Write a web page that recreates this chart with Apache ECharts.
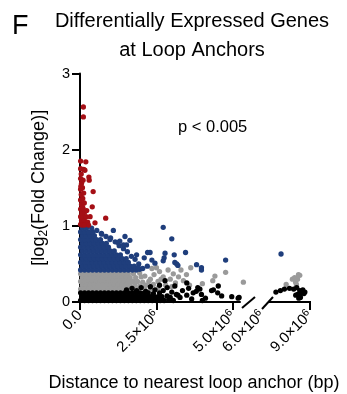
<!DOCTYPE html>
<html>
<head>
<meta charset="utf-8">
<script src="https://cdn.jsdelivr.net/npm/echarts@6/dist/echarts.min.js"></script>
<style>
html,body{margin:0;padding:0;background:#fff;}
#chart{width:347px;height:394px;}
</style>
</head>
<body>
<div id="chart"></div>
<script>
// ---- data (x in units of 10^6 bp, y = log2 fold change) ----
const leftTicks = [0, 2.5, 5.0];
const rightTicks = [6.0, 9.0];
const yTicks = [0, 1, 2, 3];

const redLeft = [[0.02,1.02],[0.10,1.03],[0.18,1.02],[0.05,1.07],[0.14,1.08],[0.02,1.12],[0.10,1.13],[0.20,1.12],
 [0.06,1.17],[0.15,1.18],[0.02,1.22],[0.10,1.23],[0.05,1.28],[0.14,1.30],[0.02,1.34],[0.09,1.36],[0.04,1.41],
 [0.12,1.43],[0.02,1.48],[0.08,1.50],[0.05,1.56],[0.02,1.62],[0.10,1.60],[0.04,1.68],[0.02,1.75],[0.12,1.74],
 [0.16,1.73],[0.02,1.85],[0.19,1.84],[0.29,1.64],[0.30,1.60],[0.43,1.45],[0.40,1.25],[0.84,1.10],[0.49,1.04],
 [0.33,1.12],[0.25,1.05],[0.11,2.56],[0.11,2.43],[0.22,1.20],[0.28,1.01],[0.06,1.01],[0.14,1.01],[0.08,1.25],[0.03,1.52]];

const blueLeft = [
 [0.02,0.42],[0.15,0.42],[0.28,0.42],[0.41,0.42],[0.54,0.42],[0.67,0.42],[0.80,0.42],[0.93,0.42],[1.06,0.42],[1.19,0.42],[1.32,0.42],[1.45,0.42],[1.58,0.42],[1.71,0.42],[1.84,0.42],[1.95,0.43],
 [0.08,0.47],[0.21,0.47],[0.34,0.47],[0.47,0.47],[0.60,0.47],[0.73,0.47],[0.86,0.47],[0.99,0.47],[1.12,0.47],[1.25,0.47],[1.38,0.47],[1.51,0.47],[1.64,0.47],[1.77,0.47],
 [0.02,0.52],[0.15,0.52],[0.28,0.52],[0.41,0.52],[0.54,0.52],[0.67,0.52],[0.80,0.52],[0.93,0.52],[1.06,0.52],[1.19,0.52],[1.32,0.52],[1.45,0.52],[1.58,0.52],
 [0.08,0.57],[0.21,0.57],[0.34,0.57],[0.47,0.57],[0.60,0.57],[0.73,0.57],[0.86,0.57],[0.99,0.57],[1.12,0.57],[1.25,0.57],[1.38,0.57],[1.51,0.57],
 [0.02,0.62],[0.15,0.62],[0.28,0.62],[0.41,0.62],[0.54,0.62],[0.67,0.62],[0.80,0.62],[0.93,0.62],[1.06,0.62],[1.19,0.62],[1.32,0.62],
 [0.08,0.67],[0.21,0.67],[0.34,0.67],[0.47,0.67],[0.60,0.67],[0.73,0.67],[0.86,0.67],[0.99,0.67],[1.12,0.67],
 [0.02,0.72],[0.15,0.72],[0.28,0.72],[0.41,0.72],[0.54,0.72],[0.67,0.72],[0.80,0.72],[0.93,0.72],
 [0.08,0.77],[0.21,0.77],[0.34,0.77],[0.47,0.77],[0.60,0.77],[0.73,0.77],[0.86,0.77],
 [0.02,0.82],[0.15,0.82],[0.28,0.82],[0.41,0.82],[0.54,0.82],[0.67,0.82],
 [0.08,0.87],[0.21,0.87],[0.34,0.87],[0.47,0.87],
 [0.02,0.92],[0.15,0.92],[0.28,0.92],[0.41,0.92],
 [0.08,0.97],[0.21,0.97],
 [2.05,0.44],[1.92,0.50],[1.80,0.56],[1.68,0.60],[1.55,0.66],[1.42,0.70],[1.28,0.74],[1.15,0.79],[1.00,0.84],
 [0.85,0.86],[0.70,0.90],[0.55,0.94],[0.38,0.97],[1.09,0.94],[1.47,0.86],[1.63,0.81],[1.42,0.75],[1.52,0.75],
 [1.24,0.78],[0.98,0.82],[0.71,0.89],[2.72,0.98],[3.00,0.83],[2.21,0.65],[2.29,0.65],[2.78,0.64],[3.08,0.62],
 [3.45,0.65],[2.75,0.58],[3.10,0.52],[3.16,0.50],[3.20,0.48],[2.45,0.51],[2.72,0.54],[1.90,0.45],[3.81,0.49],
 [3.97,0.45],[3.97,0.42],[4.76,0.55],[2.20,0.47],[2.35,0.55],[2.10,0.58],[1.85,0.62],[1.30,0.80]];
const blueRight = [[7.19,0.63]];

const grayLeft = [
 [0.02,0.37],[0.15,0.37],[0.28,0.37],[0.41,0.37],[0.54,0.37],[0.67,0.37],[0.80,0.37],[0.93,0.37],[1.06,0.37],[1.19,0.37],[1.32,0.37],[1.45,0.37],[1.58,0.37],[1.75,0.37],
 [0.08,0.32],[0.21,0.32],[0.34,0.32],[0.47,0.32],[0.60,0.32],[0.73,0.32],[0.86,0.32],[0.99,0.32],[1.12,0.32],[1.25,0.32],[1.38,0.32],[1.51,0.32],[1.64,0.32],[1.82,0.32],[2.00,0.33],
 [0.02,0.27],[0.15,0.27],[0.28,0.27],[0.41,0.27],[0.54,0.27],[0.67,0.27],[0.80,0.27],[0.93,0.27],[1.06,0.27],[1.19,0.27],[1.32,0.27],[1.45,0.27],[1.58,0.27],[1.72,0.27],[1.88,0.27],[2.05,0.26],[2.25,0.27],
 [0.08,0.22],[0.21,0.22],[0.34,0.22],[0.47,0.22],[0.60,0.22],[0.73,0.22],[0.86,0.22],[0.99,0.22],[1.12,0.22],[1.25,0.22],[1.38,0.22],[1.51,0.22],[1.64,0.22],[1.80,0.22],[1.96,0.21],[2.15,0.22],[2.40,0.23],
 [0.02,0.17],[0.15,0.17],[0.28,0.17],[0.41,0.17],[0.54,0.17],[0.67,0.17],[0.80,0.17],[0.93,0.17],[1.06,0.17],[1.19,0.17],[1.32,0.17],[1.45,0.17],[1.58,0.17],[1.72,0.18],[1.90,0.17],[2.10,0.18],[2.30,0.17],[2.55,0.18],
 [1.95,0.38],[2.12,0.34],[2.30,0.30],[2.42,0.36],[2.55,0.27],[2.60,0.40],[2.72,0.33],[2.80,0.22],[2.88,0.42],
 [2.95,0.30],[3.05,0.37],[3.12,0.25],[3.22,0.33],[3.30,0.42],[3.38,0.28],[3.48,0.36],[3.58,0.22],[3.62,0.45],
 [2.50,0.45],[2.35,0.44],[4.00,0.24],[4.34,0.28],[4.41,0.34],[4.76,0.39],[5.34,0.26],[2.65,0.30],[3.00,0.20]];
const grayRight = [[7.51,0.23],[7.90,0.30],[8.04,0.32],[8.10,0.26],[8.22,0.30],[8.36,0.35],[8.15,0.23],[8.28,0.36]];

const blackLeft = [
 [0.02,0.02],[0.15,0.02],[0.28,0.02],[0.41,0.02],[0.54,0.02],[0.67,0.02],[0.80,0.02],[0.93,0.02],[1.06,0.02],[1.19,0.02],[1.32,0.02],[1.45,0.02],[1.58,0.02],[1.71,0.02],[1.84,0.02],[1.97,0.02],[2.10,0.02],[2.23,0.02],[2.36,0.02],[2.49,0.02],[2.62,0.02],[2.75,0.02],[2.90,0.03],[3.05,0.02],
 [0.08,0.07],[0.21,0.07],[0.34,0.07],[0.47,0.07],[0.60,0.07],[0.73,0.07],[0.86,0.07],[0.99,0.07],[1.12,0.07],[1.25,0.07],[1.38,0.07],[1.51,0.07],[1.64,0.07],[1.77,0.07],[1.90,0.07],[2.03,0.07],[2.16,0.07],[2.29,0.07],[2.42,0.07],[2.55,0.07],[2.68,0.07],[2.85,0.08],
 [0.02,0.12],[0.15,0.12],[0.28,0.12],[0.41,0.12],[0.54,0.12],[0.67,0.12],[0.80,0.12],[0.93,0.12],[1.06,0.12],[1.19,0.12],[1.32,0.12],[1.45,0.12],[1.58,0.12],[1.71,0.12],[1.84,0.12],[1.97,0.12],[2.10,0.12],[2.23,0.12],[2.40,0.11],[2.60,0.12],
 [1.52,0.16],[1.70,0.18],[1.85,0.15],[2.00,0.19],[2.15,0.14],[2.30,0.20],[2.45,0.16],[2.60,0.22],[2.72,0.15],
 [2.85,0.19],[3.00,0.13],[3.10,0.21],[3.20,0.09],[3.27,0.06],[3.35,0.15],[3.49,0.09],[3.55,0.18],[3.65,0.04],
 [3.70,0.12],[3.80,0.14],[3.85,0.19],[3.92,0.17],[3.97,0.10],[4.00,0.02],[4.10,0.05],[4.30,0.15],[4.36,0.16],
 [4.52,0.21],[4.50,0.12],[4.63,0.08],[4.96,0.07],[5.17,0.05],[5.20,0.06],[2.78,0.28],[3.49,0.25],[3.15,0.10],[2.95,0.06]];
const blackRight = [[6.87,0.13],[7.15,0.15],[7.40,0.17],[7.72,0.18],[7.98,0.17],[8.17,0.19],[8.36,0.15],[8.55,0.16],
 [8.23,0.10],[8.36,0.08],[8.49,0.12],[8.11,0.09],[8.62,0.11],[8.30,0.05],[8.68,0.13],[8.40,0.06]];

// ---- chart ----
const FONT = 'Liberation Sans, Arial, Helvetica, sans-serif';
const COLORS = {red:'#a50f15', blue:'#1f3e7c', gray:'#9a9a9a', black:'#000000'};
const LEFT_MAX = 5.23;
const SYM = 5.3;

const chart = echarts.init(document.getElementById('chart'), null, {renderer:'canvas'});

function xFmt(v){
  if (v === 0) return '{a|0.0}';
  return '{a|' + v.toFixed(1) + '×10}{s|6}';
}
const labelRich = {a:{fontSize:15, fontFamily:FONT, color:'#000', lineHeight:17}, s:{fontSize:10.5, fontFamily:FONT, color:'#000', verticalAlign:'top'}};
const axisLineStyle = {color:'#000', width:2};

function sc(name, data, color, xi){
  return {name, type:'scatter', data, xAxisIndex:xi, yAxisIndex:xi, symbolSize:SYM, clip:false,
    itemStyle:{color, opacity:1}, emphasis:{disabled:true}, silent:true, animation:false};
}

chart.setOption({
  animation:false,
  backgroundColor:'#fff',
  grid:[
    {left:80, top:73.5, width:160, height:228.5},
    {left:262, top:73.5, width:48, height:228.5}
  ],
  xAxis:[
    {type:'value', gridIndex:0, min:0, max:LEFT_MAX,
     axisLine:{show:true, onZero:false, lineStyle:axisLineStyle},
     axisTick:{show:true, customValues:leftTicks, length:8, lineStyle:axisLineStyle},
     axisLabel:{customValues:leftTicks, rotate:45, margin:11, formatter:xFmt, rich:labelRich},
     splitLine:{show:false}},
    {type:'value', gridIndex:1, min:6, max:9,
     axisLine:{show:false},
     axisTick:{show:true, customValues:[9], length:8, lineStyle:axisLineStyle},
     axisLabel:{customValues:rightTicks, rotate:45, margin:11, formatter:xFmt, rich:labelRich},
     splitLine:{show:false}}
  ],
  yAxis:[
    {type:'value', gridIndex:0, min:0, max:3, interval:1,
     axisLine:{show:true, onZero:false, lineStyle:axisLineStyle},
     axisTick:{show:true, length:8, lineStyle:axisLineStyle},
     axisLabel:{customValues:yTicks, fontSize:14.5, fontFamily:FONT, color:'#000', margin:10},
     splitLine:{show:false},
     name:'[log{sub|2}(Fold Change)]', nameLocation:'middle', nameRotate:90, nameGap:30,
     nameTextStyle:{fontSize:18, fontFamily:FONT, color:'#000', lineHeight:22,
       rich:{sub:{fontSize:12, fontFamily:FONT, color:'#000', verticalAlign:'bottom'}}}},
    {type:'value', gridIndex:1, min:0, max:3, show:false}
  ],
  series:[
    sc('gray', grayLeft, COLORS.gray, 0),
    sc('blue', blueLeft, COLORS.blue, 0),
    sc('black', blackLeft, COLORS.black, 0),
    sc('red', redLeft, COLORS.red, 0),
    sc('grayR', grayRight, COLORS.gray, 1),
    sc('blueR', blueRight, COLORS.blue, 1),
    sc('blackR', blackRight, COLORS.black, 1)
  ]
});

// decorations: axis break and texts
const y0 = chart.convertToPixel({yAxisIndex:0}, 0);
const xl = chart.convertToPixel({xAxisIndex:0}, LEFT_MAX);
const xr0 = chart.convertToPixel({xAxisIndex:1}, 6);
const xr1 = chart.convertToPixel({xAxisIndex:1}, 9);
const ls = {stroke:'#000', lineWidth:2};
chart.setOption({
  graphic:[
    {type:'line', shape:{x1:xl+2, y1:y0+6, x2:xl+15, y2:y0-5}, style:ls, silent:true},
    {type:'line', shape:{x1:xr0, y1:y0+7, x2:xr0+11, y2:y0-5}, style:ls, silent:true},
    {type:'line', shape:{x1:xr0+6.4, y1:y0, x2:xr1+1, y2:y0}, style:ls, silent:true},
    {type:'text', x:12, y:27, style:{text:'F', fontSize:27, fontFamily:FONT, fill:'#000', textAlign:'left', textVerticalAlign:'middle'}},
    {type:'text', x:192, y:6.5, style:{text:'Differentially Expressed Genes\nat Loop Anchors', fontSize:20, lineHeight:29, fontFamily:FONT, fill:'#000', textAlign:'center', textVerticalAlign:'top'}},
    {type:'text', x:178, y:127, style:{text:'p < 0.005', fontSize:16.5, fontFamily:FONT, fill:'#000', textAlign:'left', textVerticalAlign:'middle'}},
    {type:'text', x:194, y:383, style:{text:'Distance to nearest loop anchor (bp)', fontSize:18, fontFamily:FONT, fill:'#000', textAlign:'center', textVerticalAlign:'middle'}}
  ]
});
</script>
</body>
</html>
